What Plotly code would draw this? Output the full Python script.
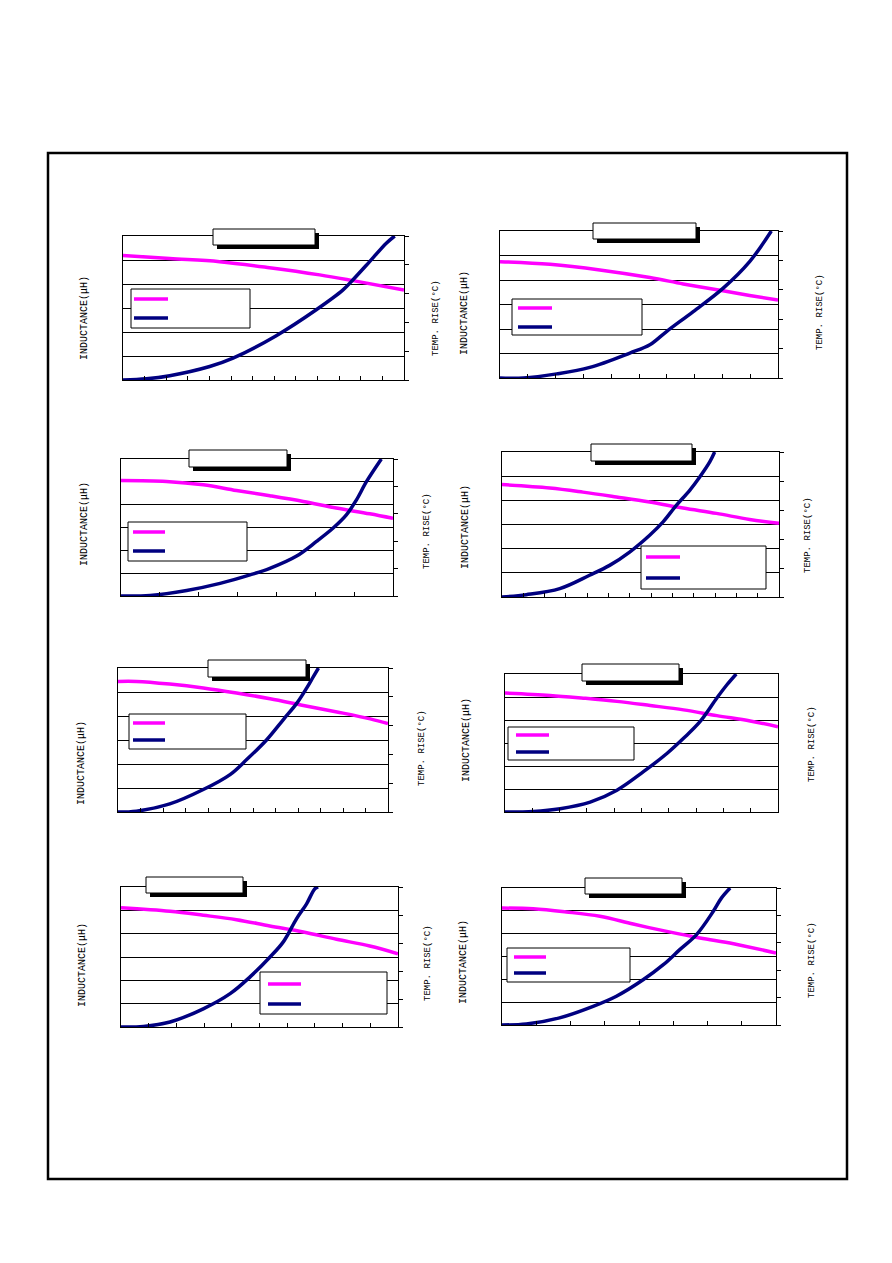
import plotly.graph_objects as go

# page size (browser window) and the body margin of the html page
W = 892
H = 1263
PAD = 8

# chart data (x in grid units of current, inductance in uH, temp rise in deg C)
ind1_x = [0, 2.16, 4.47, 6.78, 9.1, 10.64, 13]
ind1_y = [5.19, 5.06, 4.93, 4.68, 4.38, 4.14, 3.75]
tmp1_x = [0, 1.08, 2.16, 4.01, 5.09, 7.09, 8.94, 10.18, 10.64, 11.41, 12.18, 12.57]
tmp1_y = [0, 0.4, 1.5, 4.7, 7.6, 15.4, 24.4, 31.3, 34.8, 41.1, 47.5, 50.0]

ind2_x = [0, 1.8, 3.59, 5.39, 6.59, 8.02, 8.98, 10]
ind2_y = [4.75, 4.64, 4.41, 4.10, 3.84, 3.56, 3.37, 3.18]
tmp2_x = [0, 0.84, 2.04, 3.23, 4.67, 5.39, 5.99, 6.95, 8.02, 8.98, 9.76]
tmp2_y = [0, 0, 1.4, 3.6, 8.5, 11.3, 15.8, 22.6, 30.5, 39.6, 50.0]

ind3_x = [0, 1.17, 2.12, 2.97, 3.83, 4.69, 5.54, 6.40, 7]
ind3_y = [5.06, 5.02, 4.87, 4.62, 4.39, 4.14, 3.85, 3.60, 3.40]
tmp3_x = [0, 0.75, 1.69, 2.55, 3.32, 3.83, 4.52, 5.03, 5.46, 5.8, 6.06, 6.32, 6.70]
tmp3_y = [0, 0.2, 2.0, 4.6, 7.7, 10.1, 14.6, 19.9, 24.8, 29.6, 35.1, 41.8, 50.0]

ind4_x = [0, 2.24, 3.80, 5.37, 6.93, 8.50, 10.06, 11.62, 13]
ind4_y = [4.65, 4.51, 4.34, 4.14, 3.93, 3.68, 3.46, 3.21, 3.05]
tmp4_x = [0, 1.14, 2.71, 4.11, 5.05, 5.99, 6.93, 7.56, 8.18, 8.81, 9.28, 9.75, 9.98]
tmp4_y = [0, 0.8, 2.9, 7.5, 10.9, 15.5, 21.3, 25.9, 31.6, 36.8, 41.4, 46.6, 50.0]

ind5_x = [0, 0.82, 2.30, 3.79, 5.27, 6.76, 8.24, 9.73, 11.21, 12]
ind5_y = [5.44, 5.44, 5.33, 5.17, 4.96, 4.72, 4.44, 4.17, 3.88, 3.68]
tmp5_x = [0, 0.82, 2.30, 3.79, 4.98, 5.72, 6.61, 7.35, 7.95, 8.39, 8.69, 8.91]
tmp5_y = [0, 0.3, 2.8, 7.8, 13.0, 18.2, 25.1, 32.1, 37.8, 43.1, 47.1, 50.0]

ind6_x = [0, 1.65, 2.87, 4.10, 5.32, 6.54, 7.76, 8.98, 10]
ind6_y = [5.17, 5.07, 4.95, 4.81, 4.63, 4.44, 4.19, 3.96, 3.71]
tmp6_x = [0, 1.04, 2.02, 3.12, 4.10, 5.07, 5.93, 6.54, 7.15, 7.76, 8.13, 8.47]
tmp6_y = [0, 0.2, 1.2, 3.6, 7.9, 14.6, 21.2, 26.7, 32.8, 41.3, 46.1, 50.0]

ind7_x = [0, 1.77, 2.97, 4.17, 5.37, 6.58, 7.78, 8.98, 10]
ind7_y = [5.11, 4.96, 4.79, 4.60, 4.33, 4.07, 3.76, 3.47, 3.14]
tmp7_x = [0, 0.81, 1.77, 2.97, 3.94, 4.66, 5.38, 5.86, 6.34, 6.70, 7.0, 7.12]
tmp7_y = [0, 0.2, 1.8, 6.5, 11.9, 17.9, 25.0, 30.4, 38.7, 44.0, 49.4, 50.0]

ind8_x = [0, 0.91, 1.88, 2.86, 3.83, 4.81, 5.78, 6.76, 8]
ind8_y = [5.12, 5.09, 4.95, 4.76, 4.42, 4.10, 3.81, 3.56, 3.15]
tmp8_x = [0, 0.71, 1.68, 2.66, 3.34, 4.12, 4.71, 5.19, 5.68, 6.17, 6.41, 6.66]
tmp8_y = [0, 0.4, 2.6, 6.8, 10.5, 16.5, 22.0, 27.5, 33.0, 41.5, 46.4, 50.0]

x_divs = [13, 10, 7, 13, 12, 10, 10, 8]

ind_title = "INDUCTANCE(μH)"
tmp_title = "TEMP. RISE(°C)"

series = [
    (ind1_x, ind1_y, tmp1_x, tmp1_y),
    (ind2_x, ind2_y, tmp2_x, tmp2_y),
    (ind3_x, ind3_y, tmp3_x, tmp3_y),
    (ind4_x, ind4_y, tmp4_x, tmp4_y),
    (ind5_x, ind5_y, tmp5_x, tmp5_y),
    (ind6_x, ind6_y, tmp6_x, tmp6_y),
    (ind7_x, ind7_y, tmp7_x, tmp7_y),
    (ind8_x, ind8_y, tmp8_x, tmp8_y),
]

# layout of each panel in page pixels
# plot box (x0, x1, y0, y1), title box, legend box, legend line x, legend line ys,
# left title centre, right title centre, right ticks shown
panels = [
    dict(box=(123, 404, 236, 380), tbox=(213, 315, 229, 245), lbox=(131, 250, 289, 328),
         lx=(134, 168), ly=(299, 318), lt=(84, 318), rt=(436, 318), rtick=True),
    dict(box=(500, 778, 231, 378), tbox=(593, 696, 223, 239), lbox=(512, 642, 299, 335),
         lx=(518, 552), ly=(308, 327), lt=(464, 313), rt=(820, 312), rtick=True),
    dict(box=(121, 393, 459, 596), tbox=(189, 287, 450, 467), lbox=(128, 247, 522, 561),
         lx=(133, 165), ly=(532, 551), lt=(85, 524), rt=(427, 531), rtick=True),
    dict(box=(502, 779, 452, 597), tbox=(591, 692, 444, 461), lbox=(641, 766, 546, 589),
         lx=(646, 680), ly=(557, 578), lt=(465, 527), rt=(808, 535), rtick=True),
    dict(box=(118, 388, 668, 812), tbox=(208, 306, 660, 677), lbox=(129, 246, 714, 749),
         lx=(133, 165), ly=(723, 740), lt=(82, 763), rt=(422, 748), rtick=True),
    dict(box=(505, 778, 674, 812), tbox=(582, 679, 664, 681), lbox=(508, 634, 727, 760),
         lx=(516, 549), ly=(735, 752), lt=(466, 740), rt=(812, 744), rtick=False),
    dict(box=(121, 398, 887, 1027), tbox=(146, 243, 877, 893), lbox=(260, 387, 972, 1014),
         lx=(268, 301), ly=(984, 1004), lt=(82, 965), rt=(428, 963), rtick=True),
    dict(box=(502, 776, 888, 1025), tbox=(585, 682, 878, 894), lbox=(507, 630, 948, 982),
         lx=(514, 546), ly=(957, 973), lt=(463, 962), rt=(812, 960), rtick=True),
]

FW = W - 2 * PAD
FH = H - 2 * PAD


def px(x):
    return (x - PAD) / FW


def py(y):
    return 1 - (y - PAD) / FH


fig = go.Figure()
shapes = []
annotations = []
lay = {}

for i, (p, s, nx) in enumerate(zip(panels, series, x_divs)):
    xa = "x%d" % (i + 1)
    yl = "y%d" % (2 * i + 1)
    yr = "y%d" % (2 * i + 2)
    x0, x1, y0, y1 = p["box"]

    fig.add_trace(go.Scatter(x=s[0], y=s[1], xaxis=xa, yaxis=yl, mode="lines",
                             line=dict(color="#FF00FF", width=3.5, shape="spline"),
                             showlegend=False, hoverinfo="skip"))
    fig.add_trace(go.Scatter(x=s[2], y=s[3], xaxis=xa, yaxis=yr, mode="lines",
                             line=dict(color="#000080", width=3.5, shape="spline"),
                             showlegend=False, hoverinfo="skip"))

    lay["xaxis%d" % (i + 1)] = dict(
        domain=[px(x0), px(x1)], anchor=yl, range=[0, nx], dtick=1,
        ticks="inside", ticklen=4, tickcolor="black", tickwidth=1,
        showticklabels=False, showgrid=False, zeroline=False,
        showline=True, mirror=True, linecolor="black", linewidth=1,
        fixedrange=True)
    lay["yaxis%d" % (2 * i + 1)] = dict(
        domain=[py(y1), py(y0)], anchor=xa, range=[0, 6], dtick=1,
        showticklabels=False, ticks="", showgrid=True, gridcolor="black",
        gridwidth=1, zeroline=False, showline=True, mirror=True,
        linecolor="black", linewidth=1, fixedrange=True)
    lay["yaxis%d" % (2 * i + 2)] = dict(
        domain=[py(y1), py(y0)], anchor=xa, overlaying=yl, side="right",
        range=[0, 50], dtick=10, showticklabels=False,
        ticks="outside" if p["rtick"] else "", ticklen=4, tickcolor="black",
        showgrid=False, zeroline=False, showline=False, fixedrange=True)

    # title box with shadow
    tx0, tx1, ty0, ty1 = p["tbox"]
    shapes.append(dict(type="rect", xref="paper", yref="paper",
                       x0=px(tx0 + 4), x1=px(tx1 + 4), y0=py(ty1 + 4), y1=py(ty0 + 4),
                       fillcolor="black", line=dict(width=0)))
    shapes.append(dict(type="rect", xref="paper", yref="paper",
                       x0=px(tx0), x1=px(tx1), y0=py(ty1), y1=py(ty0),
                       fillcolor="white", line=dict(color="black", width=1)))

    # legend box
    lx0, lx1, ly0, ly1 = p["lbox"]
    shapes.append(dict(type="rect", xref="paper", yref="paper",
                       x0=px(lx0), x1=px(lx1), y0=py(ly1), y1=py(ly0),
                       fillcolor="white", line=dict(color="black", width=1)))
    for yy, col in zip(p["ly"], ["#FF00FF", "#000080"]):
        shapes.append(dict(type="line", xref="paper", yref="paper",
                           x0=px(p["lx"][0]), x1=px(p["lx"][1]), y0=py(yy), y1=py(yy),
                           line=dict(color=col, width=3.5)))

    annotations.append(dict(text=ind_title, xref="paper", yref="paper",
                            x=px(p["lt"][0]), y=py(p["lt"][1]), showarrow=False,
                            xanchor="center", yanchor="middle",
                            textangle=-90, font=dict(size=10)))
    annotations.append(dict(text=tmp_title, xref="paper", yref="paper",
                            x=px(p["rt"][0]), y=py(p["rt"][1]), showarrow=False,
                            xanchor="center", yanchor="middle",
                            textangle=-90, font=dict(size=9)))

# outer frame
shapes.append(dict(type="rect", xref="paper", yref="paper",
                   x0=px(48), x1=px(847), y0=py(1179), y1=py(153),
                   line=dict(color="black", width=2.5)))

fig.update_layout(
    width=FW, height=FH,
    margin=dict(l=0, r=0, t=0, b=0),
    paper_bgcolor="white", plot_bgcolor="white",
    font=dict(family="Liberation Mono", color="black"),
    shapes=shapes, annotations=annotations,
    showlegend=False,
    **lay)

fig.write_html("out.html", config=dict(displayModeBar=False))
